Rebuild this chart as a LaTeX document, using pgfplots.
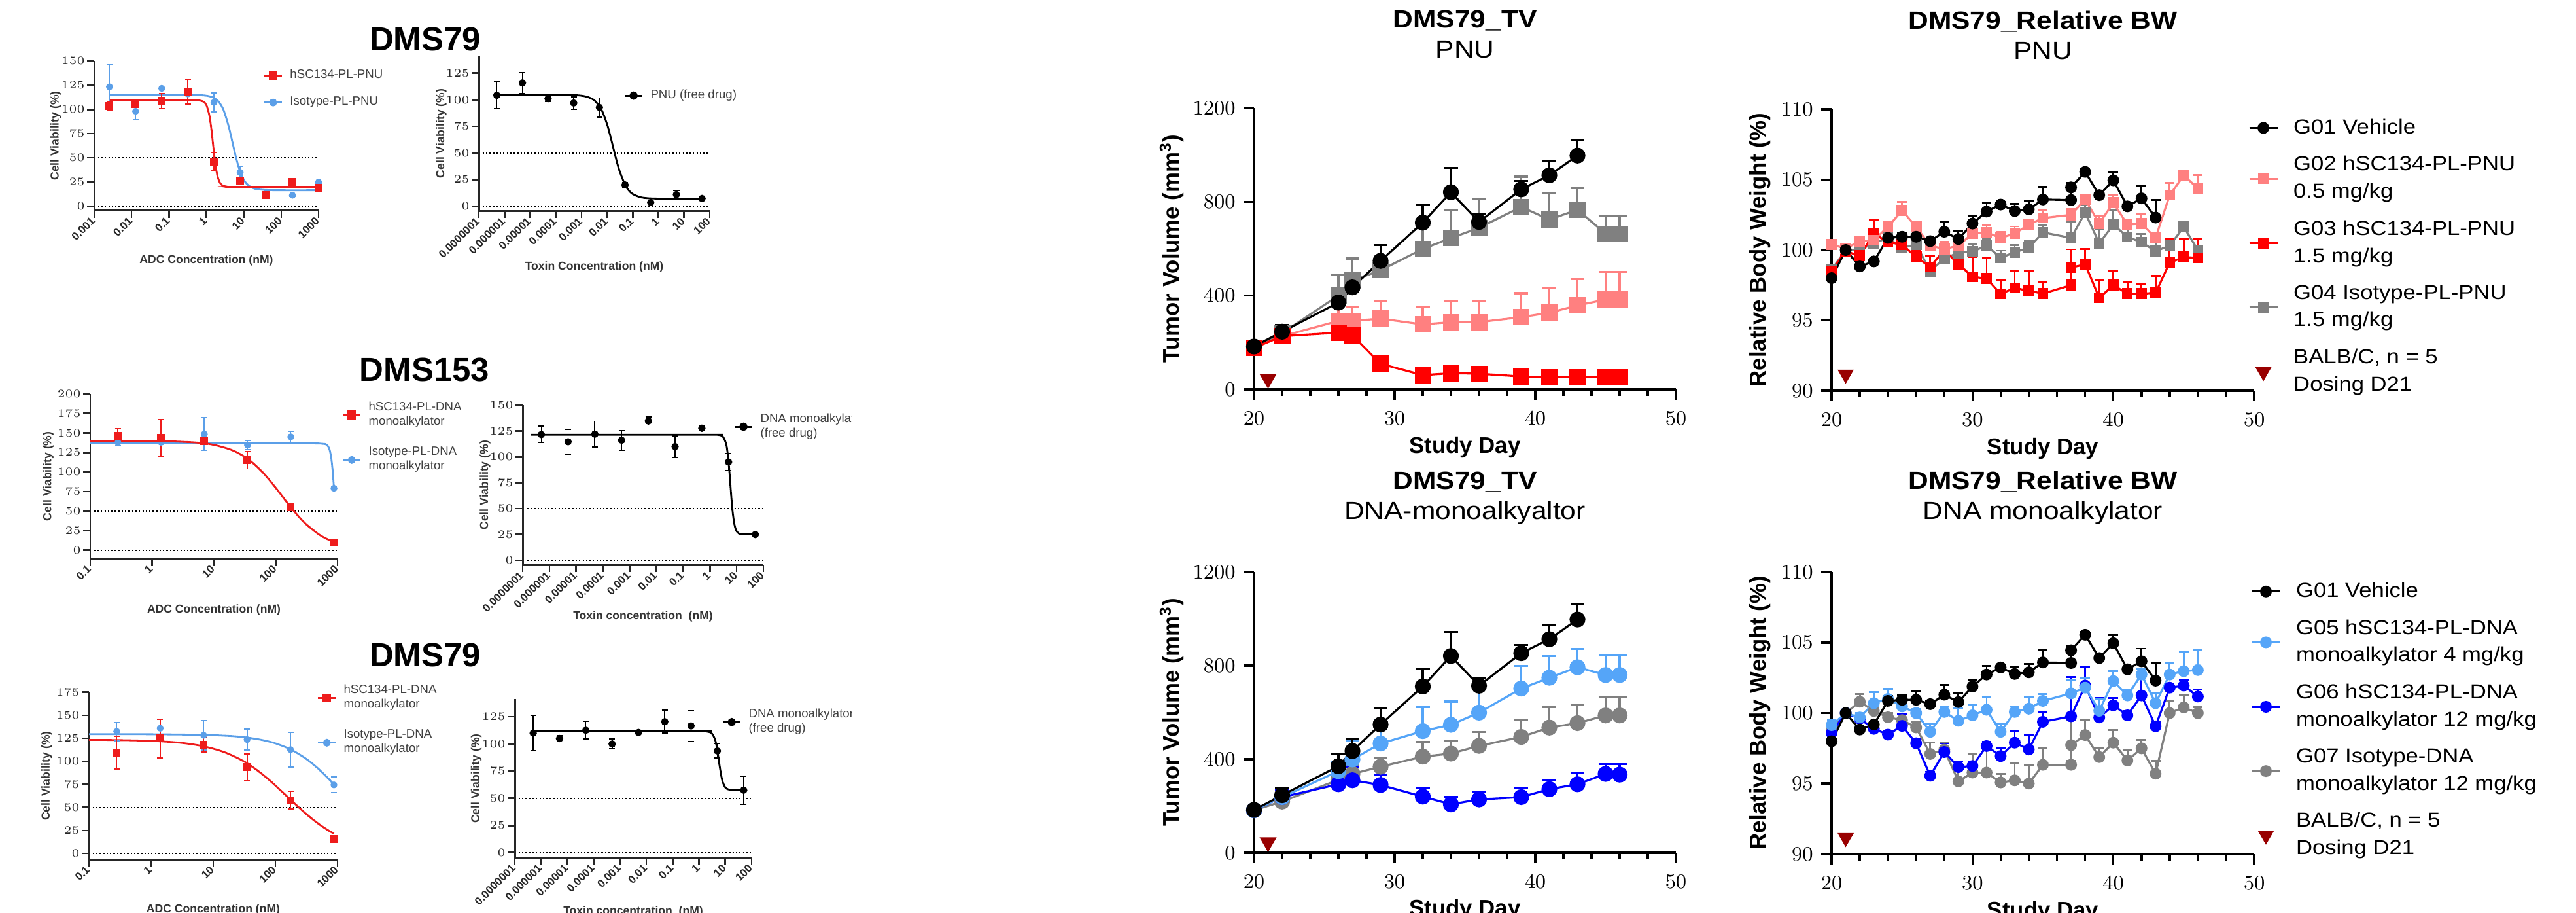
\documentclass[border=0pt]{standalone}
\usepackage{fontspec}
\setmainfont{Liberation Sans}
\newfontfamily\wide[FakeStretch=1.12]{Liberation Sans}
\usepackage{pgfplots}
\pgfplotsset{compat=1.18}
\pgfkeys{/pgf/number format/1000 sep={}}

\definecolor{pnk}{HTML}{FF8080}
\definecolor{rd}{HTML}{FF0000}
\definecolor{gry}{HTML}{808080}
\definecolor{lblue}{HTML}{55A5F8}
\definecolor{blu}{HTML}{0000FF}
\definecolor{dred}{HTML}{990000}
\definecolor{cred}{HTML}{EE1C1C}
\definecolor{cblue}{HTML}{5B9FE8}

\pgfplotsset{
  drpanel/.style={scale only axis, axis lines*=left, clip=false,
    axis line style={line width=0.85pt, black!85},
    every tick/.style={line width=0.75pt, black!85},
    tick align=outside, major tick length=1.1mm,
    ticklabel style={font=\fontsize{4.8}{5.5}\selectfont\bfseries, text=black!85},
    xticklabel style={rotate=45, anchor=east, inner sep=0.6pt},
    yticklabel style={inner sep=0.8pt},
    label style={font=\fontsize{5}{6}\selectfont\bfseries, text=black!80},
    ylabel={Cell Viability (\%)},
    legend style={draw=none, fill=none, inner sep=0pt, anchor=north west,
      font=\fontsize{5.3}{6.3}\selectfont, text=black!75,
      cells={anchor=west, align=left}, row sep=0.9mm,
      /tikz/every odd column/.append style={column sep=0.4mm}},
  },
  errb/.style={/pgfplots/error bars/y dir=both, /pgfplots/error bars/y explicit,
    /pgfplots/error bars/error bar style={line width=0.5pt, solid},
    /pgfplots/error bars/error mark options={rotate=90, mark size=1.3pt, line width=0.5pt, solid}},
  dotline/.style={black, line width=0.6pt, dash pattern=on 0.6pt off 0.9pt, forget plot},
  fitcurve/.style={line width=0.8pt, smooth, forget plot, mark=none},
  pvpanel/.style={scale only axis, clip=false, axis lines*=left,
    axis line style={line width=1.1pt},
    every tick/.style={line width=1pt, black},
    tick align=outside, major tick length=1.6mm, minor tick length=1.0mm,
    xmin=20, xmax=50, xtick={20,30,40,50}, minor x tick num=4,
    ticklabel style={font=\fontsize{8.8}{10}\selectfont\bfseries},
    xticklabel style={yshift=-0.6mm},
    label style={font=\fontsize{9.9}{11}\selectfont\bfseries},
    xlabel={Study Day},
    xlabel style={at={(axis description cs:0.5,-0.205)}, anchor=center},
    title style={at={(axis description cs:0.5,1.213)}, anchor=center, align=center,
      font=\wide\fontsize{10.8}{13.1}\selectfont},
    every axis plot/.append style={line width=0.9pt},
    legend style={draw=none, fill=none, inner sep=0pt, anchor=north west,
      font=\wide\fontsize{8.8}{11.9}\selectfont,
      cells={anchor=west, align=left}, row sep=1.5mm,
      /tikz/every odd column/.append style={column sep=1.6mm}},
  },
  errt/.style={/pgfplots/error bars/y dir=plus, /pgfplots/error bars/y explicit,
    /pgfplots/error bars/error bar style={line width=0.9pt, solid},
    /pgfplots/error bars/error mark options={rotate=90, mark size=3pt, line width=0.9pt, solid}},
  errw/.style={/pgfplots/error bars/y dir=plus, /pgfplots/error bars/y explicit,
    /pgfplots/error bars/error bar style={line width=0.8pt, solid},
    /pgfplots/error bars/error mark options={rotate=90, mark size=2.1pt, line width=0.8pt, solid}},
}

\begin{document}
\begin{tikzpicture}
\path[use as bounding box] (0,0) rectangle (393.8mm,139.4mm);

\node[font=\fontsize{14.5}{16}\selectfont\bfseries] at (65.0mm,133.4mm) {DMS79};
\node[font=\fontsize{14.5}{16}\selectfont\bfseries] at (64.9mm,82.9mm) {DMS153};
\node[font=\fontsize{14.5}{16}\selectfont\bfseries] at (65.0mm,39.3mm) {DMS79};

% row 1, ADC
\begin{axis}[drpanel, xmode=log, xminorticks=false, at={(14.4mm,107.23mm)}, anchor=south west, width=34.3mm, height=22.84mm,
  legend image code/.code={\draw[mark repeat=2,mark phase=2,#1] plot coordinates {(0mm,0mm) (1.35mm,0mm) (2.7mm,0mm)};},
  xmin=0.001, xmax=1000, ymin=-4.5, ymax=150,
  xtick={0.001,0.01,0.1,1,10,100,1000}, xticklabels={0.001,0.01,0.1,1,10,100,1000},
  ytick={0,25,...,150}, xlabel={ADC Concentration (nM)},
  xlabel style={at={(axis description cs:0.5,-0.334)}, anchor=center},
  ylabel style={at={(axis description cs:-0.172,0.5)}, anchor=center},
  legend style={at={(0.752,0.979)}}]
\addplot[dotline] coordinates {(0.00126,50) (1000,50)};
\addplot[dotline] coordinates {(0.00126,0) (1000,0)};
\addplot[cblue, fitcurve] coordinates {(0.00256,115) (0.1,115) (0.5,114.9) (1,114.2) (1.5,112.4) (2,109.1) (2.5,104.1) (3,97.5) (4,81.6) (5,65.75) (6,52.6) (7,42.8) (8,35.8) (10,27.4) (13,21.8) (20,18.0) (40,16.7) (100,16.5) (1000,16.5)};
\addplot[cred, fitcurve] coordinates {(0.00256,109.5) (0.1,109.5) (0.5,109.46) (0.8,108.41) (1.0,104.55) (1.2,93.99) (1.3,85.46) (1.4,75.35) (1.5,64.75) (1.6,54.81) (1.7,46.32) (1.8,39.53) (2.0,30.54) (2.3,24.28) (2.7,21.44) (3.5,20.24) (5,20.02) (1000,20)};
\addplot[cblue, only marks, mark=*, mark size=1.3pt, errb, forget plot] coordinates {
 (0.00256,123.4) +- (0,23) (0.0128,98.1) +- (0,9) (0.064,121.8) +- (0,1) (0.32,116) +- (0,2)
 (1.6,107.2) +- (0,10) (8,35) +- (0,6) (40,14) +- (0,1) (200,11.3) +- (0,1) (1000,24.8) +- (0,1)};
\addplot[cred, only marks, mark=square*, mark size=1.5pt, errb, forget plot] coordinates {
 (0.00256,103.5) +- (0,4) (0.0128,105.4) +- (0,5) (0.064,108.7) +- (0,8) (0.32,118.4) +- (0,13)
 (1.6,46.2) +- (0,9) (8,26) +- (0,4) (40,11.7) +- (0,3) (200,24.8) +- (0,3) (1000,18.7) +- (0,3)};
\addlegendimage{cred, line width=0.8pt, mark=square*, mark size=1.5pt}
\addlegendentry{hSC134-PL-PNU}
\addlegendimage{cblue, line width=0.8pt, mark=*, mark size=1.3pt}
\addlegendentry{Isotype-PL-PNU}
\end{axis}

% row 1, free drug
\begin{axis}[drpanel, xmode=log, xminorticks=false, at={(73.2mm,107.17mm)}, anchor=south west, width=35.3mm, height=23.63mm,
  legend image code/.code={\draw[mark repeat=2,mark phase=2,#1] plot coordinates {(0mm,0mm) (1.35mm,0mm) (2.7mm,0mm)};},
  xmin=1e-7, xmax=100, ymin=-4.5, ymax=140.8,
  xtick={1e-7,1e-6,1e-5,1e-4,1e-3,1e-2,0.1,1,10,100},
  xticklabels={0.0000001,0.000001,0.00001,0.0001,0.001,0.01,0.1,1,10,100},
  ytick={0,25,...,125}, xlabel={Toxin Concentration (nM)},
  xlabel style={at={(axis description cs:0.5,-0.363)}, anchor=center},
  ylabel style={at={(axis description cs:-0.163,0.5)}, anchor=center},
  legend style={at={(0.626,0.818)}}]
\addplot[dotline] coordinates {(1.4e-7,50) (100,50)};
\addplot[dotline] coordinates {(1.4e-7,0) (100,0)};
\addplot[black, fitcurve] coordinates {(5e-7,104.5) (1e-4,104.49) (1e-3,103.78) (3e-3,99.88) (6e-3,90.69) (0.01,76.69) (0.013,66.85) (0.017,55.75) (0.022,45.06) (0.03,33.55) (0.05,20.07) (0.07,14.76) (0.1,11.35) (0.2,8.35) (0.5,7.28) (2,7.03) (50,7)};
\addplot[black, only marks, mark=*, mark size=1.4pt, errb, forget plot] coordinates {
 (5e-7,104.1) +- (0,12.5) (5e-6,115.8) +- (0,10) (5e-5,101) +- (0,3) (5e-4,96.9) +- (0,6)
 (5e-3,92.8) +- (0,9) (0.05,19.9) +- (0,2) (0.5,3.5) +- (0,2) (5,10.9) +- (0,4) (50,7.2) +- (0,2)};
\addlegendimage{black, line width=0.8pt, mark=*, mark size=1.4pt}
\addlegendentry{PNU (free drug)}
\end{axis}

% row 2, ADC
\begin{axis}[drpanel, xmode=log, xminorticks=false, at={(13.8mm,54.0mm)}, anchor=south west, width=37.8mm, height=25.23mm,
  legend image code/.code={\draw[mark repeat=2,mark phase=2,#1] plot coordinates {(0mm,0mm) (1.35mm,0mm) (2.7mm,0mm)};},
  xmin=0.1, xmax=1000, ymin=-11.1, ymax=200,
  xtick={0.1,1,10,100,1000}, xticklabels={0.1,1,10,100,1000},
  ytick={0,25,...,200}, xlabel={ADC Concentration (nM)},
  xlabel style={at={(axis description cs:0.5,-0.308)}, anchor=center},
  ylabel style={at={(axis description cs:-0.17,0.5)}, anchor=center},
  legend style={at={(1.016,0.983)}, row sep=1.4mm}]
\addplot[dotline] coordinates {(0.115,50) (1000,50)};
\addplot[dotline] coordinates {(0.115,0) (1000,0)};
\addplot[cblue, line width=0.8pt, forget plot] coordinates {(0.1,136.5) (100,136.5) (400,136.5) (500,136.48) (631,135.8) (670,134.7) (708,132.5) (735,129.7) (760,125.6) (794,116.9) (815,109.2) (832,101.9) (855,90.3) (875,79.2)};
\addplot[cred, fitcurve] coordinates {(0.1,139.95) (0.28,139.9) (1.4,139.55) (5,137.75) (10,134.67) (20,127.7) (35,116.96) (60,100.5) (100,79.8) (150,61.7) (200,49.4) (300,34.3) (500,20.2) (700,13.8) (875,10.7)};
\addplot[cblue, only marks, mark=*, mark size=1.3pt, errb, forget plot] coordinates {
 (0.28,137.8) +- (0,4) (1.4,138) +- (0,2) (7,148.4) +- (0,21) (35,134.4) +- (0,6) (175,145) +- (0,7) (875,79.2) +- (0,2)};
\addplot[cred, only marks, mark=square*, mark size=1.5pt, errb, forget plot] coordinates {
 (0.28,146.2) +- (0,9) (1.4,143.4) +- (0,23.7) (7,139.2) +- (0,3) (35,114.9) +- (0,11) (175,54.9) +- (0,3) (875,9.5) +- (0,2)};
\addlegendimage{cred, line width=0.8pt, mark=square*, mark size=1.5pt}
\addlegendentry{hSC134-PL-DNA\\monoalkylator}
\addlegendimage{cblue, line width=0.8pt, mark=*, mark size=1.3pt}
\addlegendentry{Isotype-PL-DNA\\monoalkylator}
\end{axis}

% row 2, free drug
\begin{axis}[drpanel, xmode=log, xminorticks=false, at={(79.9mm,53.07mm)}, anchor=south west, width=36.8mm, height=24.4mm,
  legend image code/.code={\draw[mark repeat=2,mark phase=2,#1] plot coordinates {(0mm,0mm) (1.35mm,0mm) (2.7mm,0mm)};},
  xmin=1e-7, xmax=100, ymin=-4.6, ymax=150,
  xtick={1e-7,1e-6,1e-5,1e-4,1e-3,1e-2,0.1,1,10,100},
  xticklabels={0.0000001,0.000001,0.00001,0.0001,0.001,0.01,0.1,1,10,100},
  ytick={0,25,...,150}, xlabel={Toxin concentration\ \ (nM)},
  xlabel style={at={(axis description cs:0.5,-0.321)}, anchor=center},
  ylabel style={at={(axis description cs:-0.156,0.5)}, anchor=center},
  legend style={at={(0.875,0.981)}}]
\addplot[dotline] coordinates {(1.5e-7,50) (100,50)};
\addplot[dotline] coordinates {(1.5e-7,0) (100,0)};
\addplot[black, fitcurve] coordinates {(2e-7,121.5) (1,121.5) (2,121.4) (3,120.0) (4,113.2) (4.5,105.6) (5,95.0) (5.5,82.0) (6,68.9) (6.5,57.4) (7,48.1) (8,36.6) (9,30.9) (10,28.15) (12,26.03) (15,25.25) (50,25)};
\addplot[black, only marks, mark=*, mark size=1.4pt, errb, forget plot] coordinates {
 (5e-7,121.7) +- (0,8) (5e-6,114.7) +- (0,12) (5e-5,122.1) +- (0,12.5) (5e-4,116.2) +- (0,9.5)
 (5e-3,134.8) +- (0,4) (0.05,110.1) +- (0,10.5) (0.5,127.8) +- (0,0) (5,95.1) +- (0,8) (50,24.9) +- (0,1)};
\addlegendimage{black, line width=0.8pt, mark=*, mark size=1.4pt}
\addlegendentry{DNA monoalkylator\\(free drug)}
\end{axis}

% row 3, ADC
\begin{axis}[drpanel, xmode=log, xminorticks=false, at={(13.6mm,8.07mm)}, anchor=south west, width=38.0mm, height=25.56mm,
  legend image code/.code={\draw[mark repeat=2,mark phase=2,#1] plot coordinates {(0mm,0mm) (1.35mm,0mm) (2.7mm,0mm)};},
  xmin=0.1, xmax=1000, ymin=-6.6, ymax=175,
  xtick={0.1,1,10,100,1000}, xticklabels={0.1,1,10,100,1000},
  ytick={0,25,...,175}, xlabel={ADC Concentration (nM)},
  xlabel style={at={(axis description cs:0.5,-0.30)}, anchor=center},
  ylabel style={at={(axis description cs:-0.17,0.5)}, anchor=center},
  legend style={at={(0.916,1.077)}, row sep=1.4mm}]
\addplot[dotline] coordinates {(0.115,50) (1000,50)};
\addplot[dotline] coordinates {(0.115,0) (1000,0)};
\addplot[cblue, fitcurve] coordinates {(0.1,129.5) (1,129.4) (7,128.7) (20,127.4) (35,125.8) (60,123.3) (100,119.5) (175,113.0) (300,103.6) (450,94.2) (600,86.3) (750,79.7) (875,74.9)};
\addplot[cred, fitcurve] coordinates {(0.1,123.3) (0.28,123.1) (1,122.2) (3,120.1) (7,116.3) (15,110.0) (30,100.6) (50,90.7) (80,79.6) (120,68.8) (175,58.4) (250,48.7) (350,40.1) (500,31.9) (700,25.3) (875,21.5)};
\addplot[cblue, only marks, mark=*, mark size=1.3pt, errb, forget plot] coordinates {
 (0.28,132.4) +- (0,10) (1.4,135.9) +- (0,10) (7,128.3) +- (0,16) (35,123.6) +- (0,11.5) (175,112.7) +- (0,19) (875,74.4) +- (0,8.5)};
\addplot[cred, only marks, mark=square*, mark size=1.5pt, errb, forget plot] coordinates {
 (0.28,109.4) +- (0,18) (1.4,124.8) +- (0,21) (7,118.2) +- (0,8) (35,93.5) +- (0,14.5) (175,57.8) +- (0,9.5) (875,15.4) +- (0,0)};
\addlegendimage{cred, line width=0.8pt, mark=square*, mark size=1.5pt}
\addlegendentry{hSC134-PL-DNA\\monoalkylator}
\addlegendimage{cblue, line width=0.8pt, mark=*, mark size=1.3pt}
\addlegendentry{Isotype-PL-DNA\\monoalkylator}
\end{axis}

% row 3, free drug
\begin{axis}[drpanel, xmode=log, xminorticks=false, at={(78.7mm,8.33mm)}, anchor=south west, width=36.2mm, height=24.24mm,
  legend image code/.code={\draw[mark repeat=2,mark phase=2,#1] plot coordinates {(0mm,0mm) (1.35mm,0mm) (2.7mm,0mm)};},
  xmin=1e-7, xmax=100, ymin=-4.8, ymax=141.1,
  xtick={1e-7,1e-6,1e-5,1e-4,1e-3,1e-2,0.1,1,10,100},
  xticklabels={0.0000001,0.000001,0.00001,0.0001,0.001,0.01,0.1,1,10,100},
  ytick={0,25,...,125}, xlabel={Toxin concentration\ \ (nM)},
  xlabel style={at={(axis description cs:0.5,-0.34)}, anchor=center},
  ylabel style={at={(axis description cs:-0.163,0.5)}, anchor=center},
  legend style={at={(0.873,0.972)}}]
\addplot[dotline] coordinates {(1.4e-7,50) (100,50)};
\addplot[dotline] coordinates {(1.4e-7,0) (100,0)};
\addplot[black, fitcurve] coordinates {(5e-7,111.5) (1,111.5) (2,111.3) (3,109.85) (4,104.5) (4.5,99.6) (5,93.5) (5.5,87.0) (6,80.7) (7,70.8) (8,64.9) (10,59.94) (13,58.1) (20,57.6) (50,57.5)};
\addplot[black, only marks, mark=*, mark size=1.4pt, errb, forget plot] coordinates {
 (5e-7,109.9) +- (0,16) (5e-6,104.9) +- (0,3) (5e-5,112.5) +- (0,8) (5e-4,99.9) +- (0,4.5)
 (5e-3,110.5) +- (0,1) (0.05,120.4) +- (0,10.5) (0.5,116.5) +- (0,14) (5,93.5) +- (0,6.5) (50,57.4) +- (0,13)};
\addlegendimage{black, line width=0.8pt, mark=*, mark size=1.4pt}
\addlegendentry{DNA monoalkylator\\(free drug)}
\end{axis}

% the screenshot of the left block ends here
\fill[white] (130.2mm,0mm) rectangle (172mm,80mm);

% tumour volume, PNU
\begin{axis}[pvpanel, at={(191.7mm,79.9mm)}, anchor=south west, width=64.5mm, height=43.0mm,
  ymin=0, ymax=1200, ytick={0,400,800,1200},
  ylabel={Tumor Volume (mm\textsuperscript{3})},
  ylabel style={at={(axis description cs:-0.195,0.5)}, anchor=center},
  title={{\bfseries DMS79\_TV}\\PNU}]
\addplot[gry, mark=square*, mark size=3.1pt, errt] coordinates {
 (20,177) +- (0,10) (22,240) +- (0,20) (26,400) +- (0,90) (27,464) +- (0,94) (29,508) +- (0,60)
 (32,599) +- (0,102) (34,645) +- (0,121) (36,689) +- (0,121) (39,778) +- (0,129) (41,724) +- (0,112)
 (43,766) +- (0,91) (45,664) +- (0,75) (46,664) +- (0,75)};
\addplot[pnk, mark=square*, mark size=3.1pt, errt] coordinates {
 (20,177) +- (0,10) (22,227) +- (0,37) (26,292) +- (0,66) (27,292) +- (0,62) (29,302) +- (0,77)
 (32,277) +- (0,77) (34,287) +- (0,90) (36,287) +- (0,90) (39,308) +- (0,102) (41,327) +- (0,108)
 (43,358) +- (0,112) (45,383) +- (0,118) (46,383) +- (0,118)};
\addplot[rd, mark=square*, mark size=3.1pt, errt] coordinates {
 (20,177) +- (0,10) (22,227) +- (0,10) (26,242) +- (0,10) (27,230) +- (0,8) (29,109) +- (0,8)
 (32,61) +- (0,6) (34,69) +- (0,6) (36,67) +- (0,6) (39,55) +- (0,5) (41,52) +- (0,5)
 (43,52) +- (0,5) (45,52) +- (0,5) (46,52) +- (0,5)};
\addplot[black, mark=*, mark size=3pt, errt] coordinates {
 (20,183) +- (0,10) (22,246) +- (0,30) (26,370) +- (0,50) (27,435) +- (0,54) (29,548) +- (0,68)
 (32,711) +- (0,77) (34,841) +- (0,103) (36,714) +- (0,32) (39,853) +- (0,35) (41,913) +- (0,60)
 (43,997) +- (0,66)};
\addplot[dred, only marks, mark=triangle*, mark size=3.4pt, mark options={rotate=180}] coordinates {(21,45)};
\end{axis}

% body weight, PNU
\begin{axis}[pvpanel, at={(280.0mm,79.7mm)}, anchor=south west, width=64.6mm, height=43.0mm,
  legend image code/.code={\draw[mark repeat=2,mark phase=2,#1] plot coordinates {(0mm,0mm) (2.15mm,0mm) (4.3mm,0mm)};},
  ymin=90, ymax=110, ytick={90,95,100,105,110},
  ylabel={Relative Body Weight (\%)},
  ylabel style={at={(axis description cs:-0.170,0.5)}, anchor=center},
  title={{\bfseries DMS79\_Relative BW}\\PNU},
  legend style={at={(0.985,0.984)}}]
\addplot[gry, mark=square*, mark size=1.9pt, errw, forget plot] coordinates {
 (20,98.6) +- (0,0.3) (21,100.0) +- (0,0.2) (22,100.0) +- (0,0.3) (23,100.5) +- (0,0.3) (24,100.86) +- (0,0.3)
 (25,100.15) +- (0,0.4) (26,100.4) +- (0,0.5) (27,98.5) +- (0,0.4) (28,99.4) +- (0,0.5) (29,99.8) +- (0,0.4)
 (30,99.9) +- (0,0.5) (31,100.3) +- (0,0.5) (32,99.45) +- (0,0.5) (33,99.84) +- (0,0.5) (34,100.16) +- (0,0.5)
 (35,101.25) +- (0,0.5) (37,100.86) +- (0,1.1) (38,102.66) +- (0,0.5) (39,100.47) +- (0,1.0) (40,101.8) +- (0,1.0)
 (41,100.94) +- (0,0.5) (42,100.55) +- (0,0.6) (43,99.92) +- (0,0.6) (44,100.3) +- (0,0.5) (45,101.64) +- (0,0.3)
 (46,100.0) +- (0,0.3)};
\addplot[rd, mark=square*, mark size=1.9pt, errw, forget plot] coordinates {
 (20,98.5) +- (0,0.3) (21,99.9) +- (0,0.3) (22,99.6) +- (0,0.3) (23,101.17) +- (0,1.0) (24,100.55) +- (0,0.3)
 (25,100.4) +- (0,0.4) (26,99.5) +- (0,0.5) (27,98.8) +- (0,0.8) (28,100.0) +- (0,0.6) (29,99.0) +- (0,0.4)
 (30,98.1) +- (0,1.4) (31,97.97) +- (0,1.5) (32,96.88) +- (0,1.0) (33,97.3) +- (0,1.25) (34,97.1) +- (0,1.4)
 (35,96.9) +- (0,0.8) (37,97.5) +- (0,0.4) (37,98.75) +- (0,1.3) (38,98.98) +- (0,1.1) (39,96.6) +- (0,1.25)
 (40,97.5) +- (0,1.0) (41,96.9) +- (0,0.85) (42,96.9) +- (0,0.7) (43,96.95) +- (0,1.2) (44,99.1) +- (0,1.7)
 (45,99.5) +- (0,1.3) (46,99.45) +- (0,1.3)};
\addplot[pnk, mark=square*, mark size=1.9pt, errw, forget plot] coordinates {
 (20,100.39) +- (0,0.3) (21,100.1) +- (0,0.2) (22,100.63) +- (0,0.3) (23,100.7) +- (0,0.3) (24,101.64) +- (0,0.3)
 (25,102.81) +- (0,0.6) (26,101.64) +- (0,0.3) (27,100.3) +- (0,0.3) (28,100.08) +- (0,0.5) (29,100.3) +- (0,0.4)
 (30,101.17) +- (0,0.6) (31,101.25) +- (0,0.5) (32,100.86) +- (0,0.4) (33,101.17) +- (0,0.5) (34,101.8) +- (0,0.3)
 (35,102.27) +- (0,0.6) (37,102.5) +- (0,0.4) (38,103.6) +- (0,0.3) (39,101.88) +- (0,0.5) (40,103.36) +- (0,0.55)
 (41,101.8) +- (0,0.3) (42,101.88) +- (0,0.7) (43,100.86) +- (0,0.3) (44,103.9) +- (0,0.85) (45,105.3) +- (0,0.2)
 (46,104.38) +- (0,0.95)};
\addplot[black, mark=*, mark size=2.1pt, errw, forget plot] coordinates {
 (20,98.0) +- (0,0.3) (21,100.0) +- (0,0.2) (22,98.83) +- (0,0.3) (23,99.19) +- (0,0.2) (24,100.86) +- (0,0.35)
 (25,100.94) +- (0,0.3) (26,100.94) +- (0,0.6) (27,100.63) +- (0,0.2) (28,101.3) +- (0,0.7) (29,100.78) +- (0,0.6)
 (30,101.88) +- (0,0.5) (31,102.73) +- (0,0.6) (32,103.23) +- (0,0.2) (33,102.77) +- (0,0.5) (34,102.89) +- (0,0.6)
 (35,103.59) +- (0,0.9) (37,103.55) +- (0,0.2) (37,104.45) +- (0,0.3) (38,105.55) +- (0,0.2) (39,103.9) +- (0,0.2)
 (40,104.95) +- (0,0.6) (41,103.1) +- (0,0.2) (42,103.67) +- (0,0.9) (43,102.3) +- (0,1.25)};
\addplot[dred, only marks, mark=triangle*, mark size=3.2pt, mark options={rotate=180}, forget plot] coordinates {(21,91.16)};
\addlegendimage{black, mark=*, mark size=2.1pt, line width=0.9pt}
\addlegendentry{G01 Vehicle}
\addlegendimage{pnk, mark=square*, mark size=1.9pt, line width=0.9pt}
\addlegendentry{G02 hSC134-PL-PNU\\0.5 mg/kg}
\addlegendimage{rd, mark=square*, mark size=1.9pt, line width=0.9pt}
\addlegendentry{G03 hSC134-PL-PNU\\1.5 mg/kg}
\addlegendimage{gry, mark=square*, mark size=1.9pt, line width=0.9pt}
\addlegendentry{G04 Isotype-PL-PNU\\1.5 mg/kg}
\addlegendimage{dred, only marks, mark=triangle*, mark size=3.2pt, mark options={rotate=180}}
\addlegendentry{BALB/C, n = 5\\Dosing D21}
\end{axis}

% tumour volume, DNA monoalkylator
\begin{axis}[pvpanel, at={(191.7mm,9.1mm)}, anchor=south west, width=64.5mm, height=42.9mm,
  ymin=0, ymax=1200, ytick={0,400,800,1200},
  ylabel={Tumor Volume (mm\textsuperscript{3})},
  ylabel style={at={(axis description cs:-0.195,0.5)}, anchor=center},
  title={{\bfseries DMS79\_TV}\\DNA-monoalkyaltor}]
\addplot[gry, mark=*, mark size=3pt, errt] coordinates {
 (20,182) +- (0,10) (22,219) +- (0,20) (26,312) +- (0,25) (27,337) +- (0,35) (29,368) +- (0,40)
 (32,411) +- (0,62) (34,424) +- (0,52) (36,457) +- (0,59) (39,495) +- (0,71) (41,535) +- (0,89)
 (43,554) +- (0,80) (45,587) +- (0,78) (46,587) +- (0,78)};
\addplot[blu, mark=*, mark size=3pt, errt] coordinates {
 (20,182) +- (0,10) (22,238) +- (0,30) (26,293) +- (0,20) (27,310) +- (0,54) (29,290) +- (0,43)
 (32,240) +- (0,35) (34,207) +- (0,33) (36,228) +- (0,34) (39,238) +- (0,37) (41,272) +- (0,40)
 (43,293) +- (0,50) (45,337) +- (0,43) (46,334) +- (0,46)};
\addplot[lblue, mark=*, mark size=3pt, errt] coordinates {
 (20,182) +- (0,10) (22,238) +- (0,40) (26,349) +- (0,40) (27,399) +- (0,80) (29,467) +- (0,99)
 (32,520) +- (0,102) (34,547) +- (0,99) (36,599) +- (0,110) (39,702) +- (0,96) (41,748) +- (0,93)
 (43,793) +- (0,79) (45,760) +- (0,87) (46,760) +- (0,87)};
\addplot[black, mark=*, mark size=3pt, errt] coordinates {
 (20,183) +- (0,10) (22,246) +- (0,30) (26,370) +- (0,50) (27,435) +- (0,54) (29,548) +- (0,68)
 (32,711) +- (0,77) (34,841) +- (0,103) (36,714) +- (0,32) (39,853) +- (0,35) (41,913) +- (0,60)
 (43,997) +- (0,66)};
\addplot[dred, only marks, mark=triangle*, mark size=3.4pt, mark options={rotate=180}] coordinates {(21,45)};
\end{axis}

% body weight, DNA monoalkylator
\begin{axis}[pvpanel, at={(280.0mm,8.9mm)}, anchor=south west, width=64.6mm, height=43.1mm,
  legend image code/.code={\draw[mark repeat=2,mark phase=2,#1] plot coordinates {(0mm,0mm) (2.15mm,0mm) (4.3mm,0mm)};},
  ymin=90, ymax=110, ytick={90,95,100,105,110},
  ylabel={Relative Body Weight (\%)},
  ylabel style={at={(axis description cs:-0.170,0.5)}, anchor=center},
  title={{\bfseries DMS79\_Relative BW}\\DNA monoalkylator},
  legend style={at={(0.991,0.981)}}]
\addplot[gry, mark=*, mark size=2.1pt, errw, forget plot] coordinates {
 (20,98.8) +- (0,0.3) (21,100.0) +- (0,0.2) (22,100.8) +- (0,0.55) (23,100.15) +- (0,0.3) (24,99.7) +- (0,0.3)
 (25,99.5) +- (0,0.4) (26,98.98) +- (0,0.4) (27,97.1) +- (0,0.8) (28,97.4) +- (0,0.5) (29,95.16) +- (0,1.1)
 (30,95.78) +- (0,1.3) (31,95.78) +- (0,1.6) (32,95.08) +- (0,0.6) (33,95.23) +- (0,1.2) (34,95.0) +- (0,1.3)
 (35,96.33) +- (0,1.2) (37,96.33) +- (0,0.3) (37,97.73) +- (0,1.8) (38,98.44) +- (0,1.1) (39,96.88) +- (0,0.6)
 (40,97.9) +- (0,0.9) (41,96.64) +- (0,0.7) (42,97.5) +- (0,0.6) (43,95.7) +- (0,0.9) (44,100.0) +- (0,0.9)
 (45,100.4) +- (0,0.9) (46,100.0) +- (0,0.4)};
\addplot[blu, mark=*, mark size=2.1pt, errw, forget plot] coordinates {
 (20,98.6) +- (0,0.3) (21,100.0) +- (0,0.2) (22,99.6) +- (0,0.3) (23,98.88) +- (0,0.3) (24,98.47) +- (0,0.3)
 (25,99.09) +- (0,0.8) (26,97.86) +- (0,0.3) (27,95.55) +- (0,0.3) (28,97.24) +- (0,0.6) (29,96.17) +- (0,0.4)
 (30,96.25) +- (0,0.3) (31,97.66) +- (0,0.3) (32,96.95) +- (0,0.6) (33,97.9) +- (0,0.8) (34,97.42) +- (0,1.0)
 (35,99.38) +- (0,0.7) (37,99.77) +- (0,2.8) (38,101.95) +- (0,1.3) (39,99.69) +- (0,1.4) (40,100.55) +- (0,0.5)
 (41,99.84) +- (0,0.3) (42,101.25) +- (0,1.5) (43,99.06) +- (0,0.3) (44,101.8) +- (0,0.3) (45,101.95) +- (0,0.4)
 (46,101.17) +- (0,0.5)};
\addplot[lblue, mark=*, mark size=2.1pt, errw, forget plot] coordinates {
 (20,99.14) +- (0,0.4) (21,100.0) +- (0,0.2) (22,99.69) +- (0,0.3) (23,100.7) +- (0,0.8) (24,101.0) +- (0,0.7)
 (25,100.47) +- (0,0.5) (26,100.0) +- (0,0.3) (27,98.67) +- (0,0.55) (28,100.08) +- (0,0.4) (29,99.45) +- (0,0.9)
 (30,99.84) +- (0,0.7) (31,100.23) +- (0,0.9) (32,98.67) +- (0,0.6) (33,100.08) +- (0,0.4) (34,100.31) +- (0,0.85)
 (35,100.86) +- (0,0.5) (37,101.4) +- (0,0.95) (38,101.8) +- (0,0.7) (39,100.16) +- (0,0.85) (40,102.27) +- (0,0.7)
 (41,101.25) +- (0,0.4) (42,102.73) +- (0,0.4) (43,100.7) +- (0,0.7) (44,102.73) +- (0,0.8) (45,102.97) +- (0,1.4)
 (46,103.05) +- (0,1.4)};
\addplot[black, mark=*, mark size=2.1pt, errw, forget plot] coordinates {
 (20,98.0) +- (0,0.3) (21,100.0) +- (0,0.2) (22,98.83) +- (0,0.3) (23,99.19) +- (0,0.2) (24,100.86) +- (0,0.35)
 (25,100.94) +- (0,0.3) (26,100.94) +- (0,0.6) (27,100.63) +- (0,0.2) (28,101.3) +- (0,0.7) (29,100.78) +- (0,0.6)
 (30,101.88) +- (0,0.5) (31,102.73) +- (0,0.6) (32,103.23) +- (0,0.2) (33,102.77) +- (0,0.5) (34,102.89) +- (0,0.6)
 (35,103.59) +- (0,0.9) (37,103.55) +- (0,0.2) (37,104.45) +- (0,0.3) (38,105.55) +- (0,0.2) (39,103.9) +- (0,0.2)
 (40,104.95) +- (0,0.6) (41,103.1) +- (0,0.2) (42,103.67) +- (0,0.9) (43,102.3) +- (0,1.25)};
\addplot[dred, only marks, mark=triangle*, mark size=3.2pt, mark options={rotate=180}, forget plot] coordinates {(21,91.16)};
\addlegendimage{black, mark=*, mark size=2.1pt, line width=0.9pt}
\addlegendentry{G01 Vehicle}
\addlegendimage{lblue, mark=*, mark size=2.1pt, line width=0.9pt}
\addlegendentry{G05 hSC134-PL-DNA\\monoalkylator 4 mg/kg}
\addlegendimage{blu, mark=*, mark size=2.1pt, line width=0.9pt}
\addlegendentry{G06 hSC134-PL-DNA\\monoalkylator 12 mg/kg}
\addlegendimage{gry, mark=*, mark size=2.1pt, line width=0.9pt}
\addlegendentry{G07 Isotype-DNA\\monoalkylator 12 mg/kg}
\addlegendimage{dred, only marks, mark=triangle*, mark size=3.2pt, mark options={rotate=180}}
\addlegendentry{BALB/C, n = 5\\Dosing D21}
\end{axis}
\end{tikzpicture}
\end{document}
